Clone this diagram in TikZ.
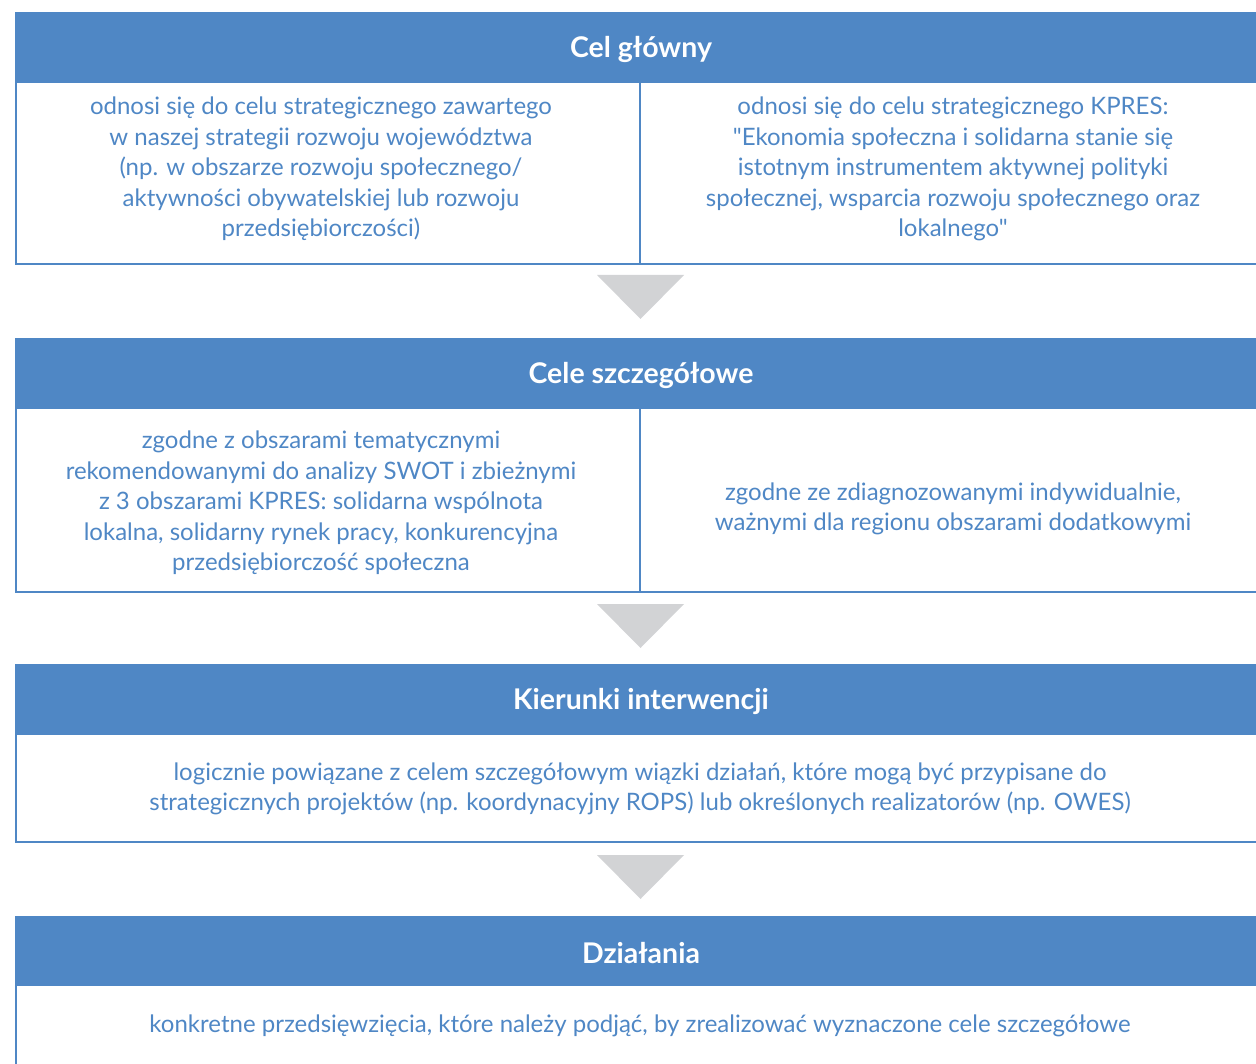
\documentclass[tikz,border=0pt]{standalone}
\usepackage{fontspec}
\setmainfont{Lato}[Ligatures=TeXOff]
\definecolor{plan}{HTML}{4F87C5}
\definecolor{grot}{HTML}{D2D3D5}
\newcommand{\nizej}[1]{\raisebox{-2pt}[\height][\depth]{#1}}
\tikzset{
    hdr/.style={fill=plan, text=white, font=\fontsize{28.5}{32}\selectfont\bfseries,
        minimum width=1252, minimum height=70, inner sep=0},
    txt/.style={text=plan, font=\fontsize{24}{30.4}\selectfont, align=center, inner sep=0},
    ramka/.style={draw=plan, line width=2},
    grotka/.style={fill=grot}
}
\begin{document}
\begin{tikzpicture}[x=1pt, y=-1pt]
    \useasboundingbox (0,0) rectangle (1256,1064);

    % Cel glowny
    \draw[ramka] (16,82) rectangle (1270,264);
    \draw[ramka] (640,82) -- (640,264);
    \node[hdr] (cel) at (641,47) {\nizej{Cel główny}};
    \node[txt] (celL) at (321,169) {odnosi się do celu strategicznego zawartego\\
        w naszej strategii rozwoju województwa\\
        (np. w obszarze rozwoju społecznego/\\
        aktywności obywatelskiej lub rozwoju\\
        przedsiębiorczości)};
    \node[txt] (celR) at (953,169) {odnosi się do celu strategicznego KPRES:\\
        "Ekonomia społeczna i solidarna stanie się\\
        istotnym instrumentem aktywnej polityki\\
        społecznej, wsparcia rozwoju społecznego oraz\\
        lokalnego"};

    % Cele szczegolowe
    \draw[ramka] (16,408) rectangle (1270,592);
    \draw[ramka] (640,408) -- (640,592);
    \node[hdr] (szcz) at (641,373) {\nizej{Cele szczegółowe}};
    \node[txt] (szczL) at (321,503) {zgodne z obszarami tematycznymi\\
        rekomendowanymi do analizy SWOT i zbieżnymi\\
        z 3 obszarami KPRES: solidarna wspólnota\\
        lokalna, solidarny rynek pracy, konkurencyjna\\
        przedsiębiorczość społeczna};
    \node[txt] (szczR) at (953,509) {zgodne ze zdiagnozowanymi indywidualnie,\\
        ważnymi dla regionu obszarami dodatkowymi};

    % Kierunki interwencji
    \draw[ramka] (16,734) rectangle (1270,842);
    \node[hdr] (kier) at (641,699) {\nizej{Kierunki interwencji}};
    \node[txt] (kierT) at (640,789) {logicznie powiązane z celem szczegółowym wiązki działań, które mogą być przypisane do\\
        strategicznych projektów (np. koordynacyjny ROPS) lub określonych realizatorów (np. OWES)};

    % Dzialania
    \draw[ramka] (16,986) -- (16,1070);
    \node[hdr] (dzi) at (641,951) {\nizej{Działania}};
    \node[txt] (dziT) at (640,1026) {konkretne przedsięwzięcia, które należy podjąć, by zrealizować wyznaczone cele szczegółowe};

    % Groty miedzy poziomami
    \foreach \y in {275,604,855}
        \fill[grotka] (597,\y) -- (684,\y) -- (640.5,\y+44) -- cycle;
\end{tikzpicture}
\end{document}
